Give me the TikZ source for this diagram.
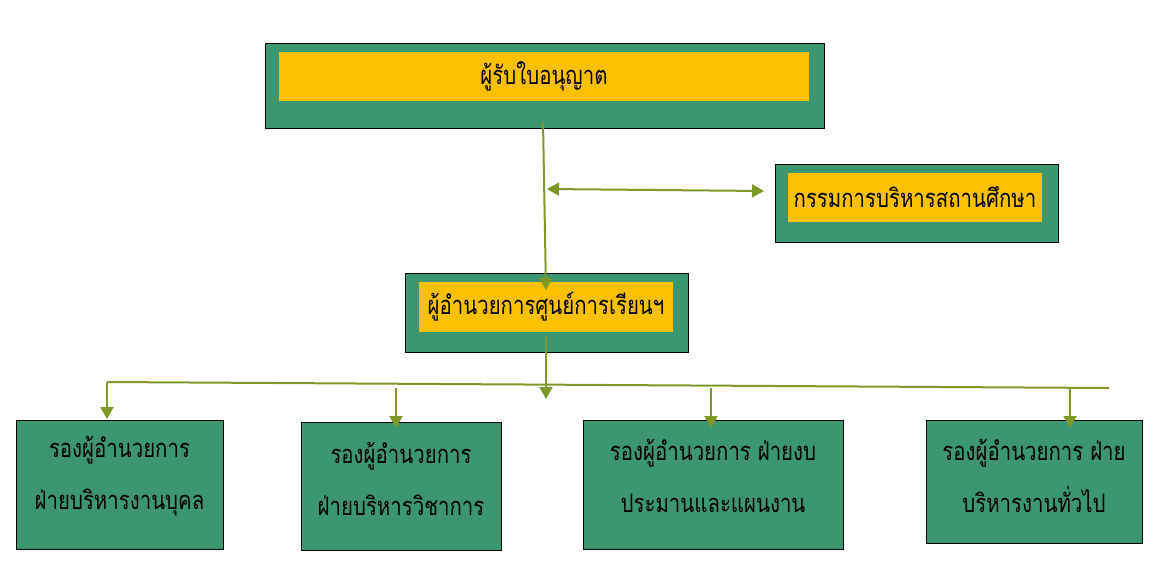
\documentclass[tikz,border=0pt]{standalone}
\usepackage{fontspec}
\setmainfont[Script=Thai,FakeStretch=0.8]{Loma}
\usetikzlibrary{arrows.meta}
\definecolor{boxgreen}{RGB}{60,150,112}
\definecolor{boxyellow}{RGB}{255,192,0}
\definecolor{lineolive}{RGB}{125,153,40}
\tikzset{
  outerbox/.style={draw=black, line width=0.9pt, fill=boxgreen, inner sep=0pt},
  innerbox/.style={fill=boxyellow, inner sep=0pt, font=\fontsize{25.5}{30}\selectfont},
  leafbox/.style={draw=black, line width=0.9pt, fill=boxgreen, inner sep=0pt},
  leaftext/.style={inner sep=0pt, align=center, font=\fontsize{25.5}{52}\selectfont},
  conn/.style={draw=lineolive, line width=2pt},
  tip/.style={-{Triangle[width=13pt,length=12pt]}, conn},
  dtip/.style={{Triangle[width=13pt,length=12pt]}-{Triangle[width=13pt,length=12pt]}, conn}
}
\begin{document}
\begin{tikzpicture}[x=1pt,y=-1pt]
\useasboundingbox (0,0) rectangle (1162,568);
% top
\node[outerbox, minimum width=559pt, minimum height=85pt] (topo) at (544.5,85.5) {};
\node[innerbox, minimum width=530pt, minimum height=49pt] (topi) at (544,76.5) {ผู้รับใบอนุญาต};
% committee
\node[outerbox, minimum width=283pt, minimum height=78pt] (como) at (916.5,203) {};
\node[innerbox, minimum width=254pt, minimum height=49pt] (comi) at (915,197.5) {กรรมการบริหารสถานศึกษา};
% director
\node[outerbox, minimum width=283pt, minimum height=79pt] (diro) at (546.5,312.5) {};
\node[innerbox, minimum width=254pt, minimum height=50pt] (diri) at (546,307) {ผู้อำนวยการศูนย์การเรียนฯ};
% leaves
\node[leafbox, minimum width=207pt, minimum height=129pt] (b1) at (119.5,484.5) {};
\node[leaftext] (b1t) at (119.5,476) {รองผู้อำนวยการ\\ฝ่ายบริหารงานบุคล};
\node[leafbox, minimum width=200pt, minimum height=128pt] (b2) at (401,486) {};
\node[leaftext] (b2t) at (401,479) {รองผู้อำนวยการ\\ฝ่ายบริหารวิชาการ};
\node[leafbox, minimum width=260pt, minimum height=129pt] (b3) at (713,484.5) {};
\node[leaftext] (b3t) at (713,476) {รองผู้อำนวยการ ฝ่ายงบ\\ประมานและแผนงาน};
\node[leafbox, minimum width=216pt, minimum height=123pt] (b4) at (1034,481.5) {};
\node[leaftext] (b4t) at (1034,476) {รองผู้อำนวยการ ฝ่าย\\บริหารงานทั่วไป};
% connector coordinates
\coordinate (t1) at (543,122);
\coordinate (t2) at (546,290);
\coordinate (d1) at (547,189);
\coordinate (d2) at (764,191);
\coordinate (m1) at (546,336);
\coordinate (m2) at (546,399);
\coordinate (hL) at (107,382);
\coordinate (hR) at (1109,388);
\coordinate (a1) at (107,382);
\coordinate (a1e) at (107,419);
\coordinate (a2) at (396,388);
\coordinate (a2e) at (396,428);
\coordinate (a3) at (711,388);
\coordinate (a3e) at (711,428);
\coordinate (a4) at (1070,388);
\coordinate (a4e) at (1070,428);
\draw[tip] (t1) -- (t2);
\draw[dtip] (d1) -- (d2);
\draw[tip] (m1) -- (m2);
\draw[conn] (hL) -- (hR);
\draw[tip] (a1) -- (a1e);
\draw[tip] (a2) -- (a2e);
\draw[tip] (a3) -- (a3e);
\draw[tip] (a4) -- (a4e);
\end{tikzpicture}
\end{document}
